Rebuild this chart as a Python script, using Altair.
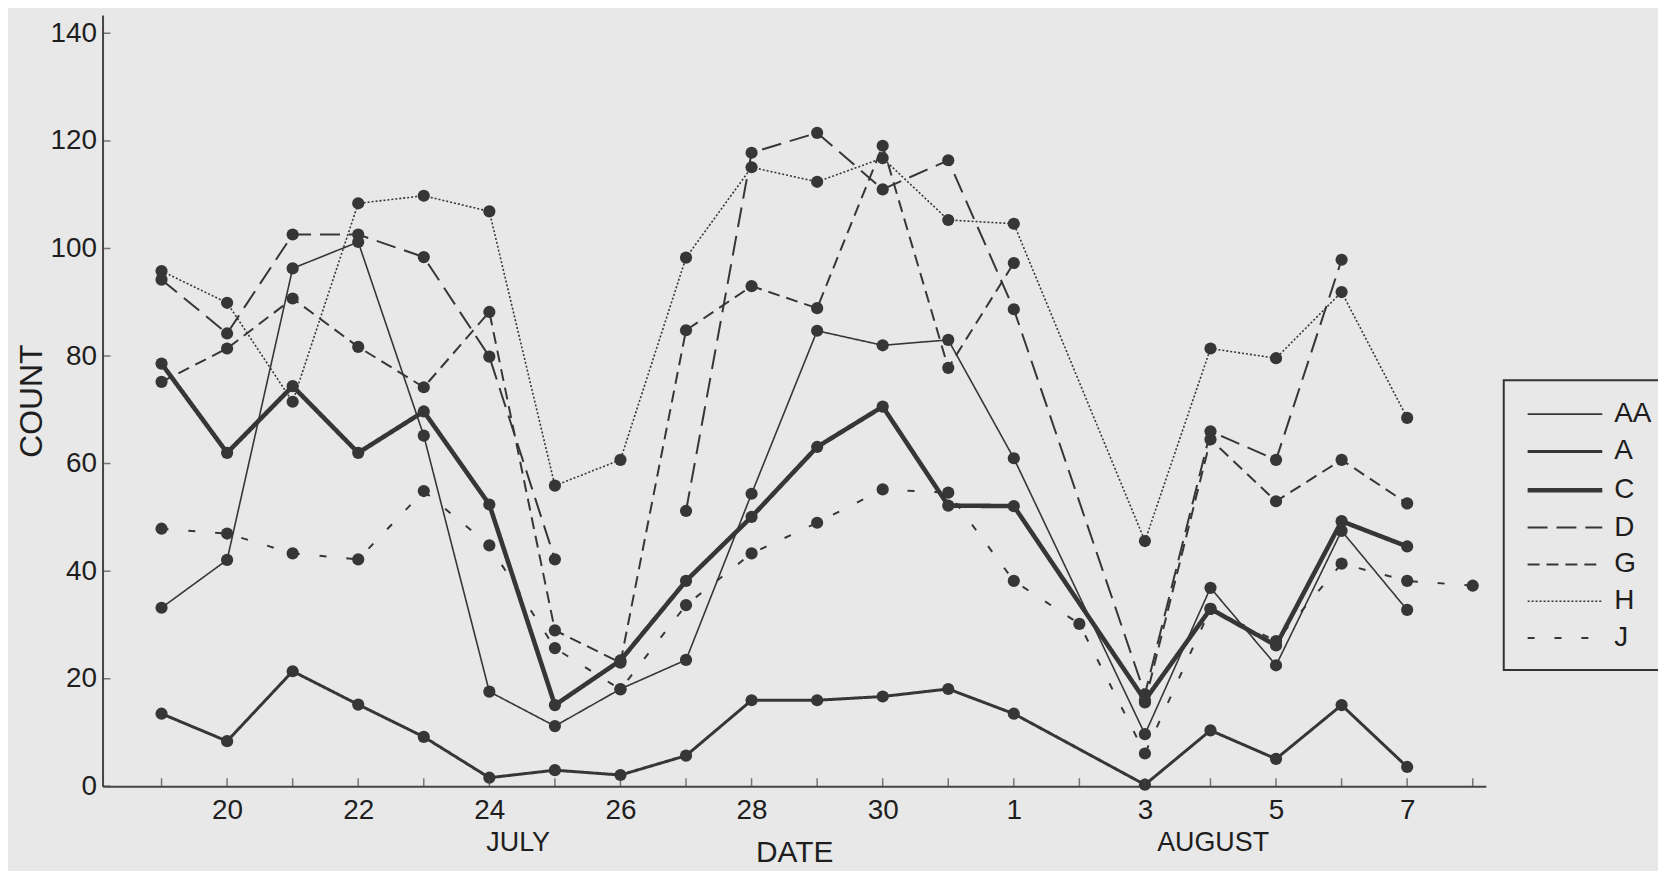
import altair as alt
import pandas as pd

# ---- data ----
SERIES = ["AA", "A", "C", "D", "G", "H", "J"]
# day index: 19..31 = July 19..31, 32..39 = August 1..8
DAYS = list(range(19, 40))

AA = [33.2, 42.1, 96.3, 101.2, 65.2, 17.6, 11.2, 18.1, 23.5, 54.4, 84.7, 82.0, 83.0, 61.0, None, 9.7, 36.9, 22.5, 47.5, 32.8, None]
A = [13.5, 8.4, 21.4, 15.2, 9.2, 1.6, 3.0, 2.1, 5.7, 16.0, 16.0, 16.7, 18.1, 13.5, None, 0.3, 10.4, 5.1, 15.1, 3.6, None]
C = [78.6, 62.0, 74.4, 62.0, 69.7, 52.4, 15.1, 23.4, 38.2, 50.1, 63.1, 70.6, 52.2, 52.1, None, 16.0, 33.0, 26.2, 49.3, 44.6, None]
D = [94.2, 84.2, 102.6, 102.6, 98.4, 79.9, 42.2, None, 51.2, 117.8, 121.5, 111.0, 116.4, 88.7, None, 17.1, 66.0, 60.7, 97.9, None, None]
G = [75.2, 81.4, 90.7, 81.7, 74.2, 88.2, 29.0, 23.0, 84.8, 93.0, 88.9, 119.1, 77.8, 97.3, None, 15.6, 64.5, 53.0, 60.7, 52.6, None]
H = [95.8, 89.9, 71.5, 108.4, 109.8, 106.9, 55.9, 60.7, 98.3, 115.1, 112.4, 116.8, 105.3, 104.6, None, 45.6, 81.4, 79.6, 91.9, 68.5, None]
J = [47.9, 47.0, 43.3, 42.2, 54.9, 44.8, 25.7, 18.0, 33.7, 43.3, 49.0, 55.2, 54.6, 38.2, 30.2, 6.1, 33.0, 27.0, 41.4, 38.2, 37.3]
VALUES = {"AA": AA, "A": A, "C": C, "D": D, "G": G, "H": H, "J": J}
# missing days where the line is not bridged
BREAKS = {"D": [26], "G": [33]}

X_LABEL_DAYS = [20, 22, 24, 26, 28, 30, 32, 34, 36, 38]
X_TICK_DAYS = list(range(19, 40))
Y_TICKS = [0, 20, 40, 60, 80, 100, 120, 140]
MONTHS = ["JULY", "AUGUST"]
MONTH_POS = [24.44, 35.04]

# ---- styles ----
DASHES = [[1, 0], [1, 0], [1, 0], [20, 9], [12, 7], [2, 2], [7, 20]]
WIDTHS = [1.6, 3.0, 4.6, 2.0, 2.0, 1.6, 2.0]
INK = "#363636"
TXT = "#1e1e1e"
FONT = "Liberation Sans"
X0 = 18.1

rows = []
for s in SERIES:
    seg = 0
    for d, v in zip(DAYS, VALUES[s]):
        if v is None:
            if d in BREAKS.get(s, []):
                seg += 1
            continue
        rows.append({"series": s, "day": d, "count": v, "seg": f"{s}-{seg}"})
df = pd.DataFrame(rows)

W, HGT = 1390, 775

xs = alt.Scale(domain=[X0, 39.2], nice=False, zero=False)
ys = alt.Scale(domain=[0, 143.4], nice=False)

x_enc = alt.X("day:Q", scale=xs, axis=alt.Axis(
    values=X_LABEL_DAYS,
    labelExpr="datum.value > 31 ? datum.value - 31 : datum.value",
    ticks=False, grid=False, title="DATE", labelPadding=10,
    titleY=76, titleBaseline="alphabetic", titleFontSize=30))
y_enc = alt.Y("count:Q", scale=ys, axis=alt.Axis(
    values=Y_TICKS, ticks=False, grid=False, title="COUNT", labelPadding=6, titlePadding=2))

leg = alt.Legend(title=None, symbolType="M-2.5,0H2.5", symbolSize=900,
                 symbolOffset=26, symbolStrokeColor=INK,
                 labelFontSize=28, labelFont=FONT, labelColor=TXT, labelOffset=32,
                 rowPadding=7, padding=18,
                 orient="none", legendX=1408, legendY=367, strokeColor="#333",
                 fillColor="#e8e8e8")

lines = alt.Chart(df).mark_line(color=INK, strokeCap="butt", strokeJoin="miter").encode(
    x=x_enc, y=y_enc,
    strokeDash=alt.StrokeDash("series:N", scale=alt.Scale(domain=SERIES, range=DASHES), legend=leg),
    strokeWidth=alt.StrokeWidth("series:N", scale=alt.Scale(type="ordinal", domain=SERIES, range=WIDTHS), legend=leg),
    detail="seg:N",
    order="day:Q",
)

points = alt.Chart(df).mark_circle(size=150, color=INK, opacity=1).encode(
    x=alt.X("day:Q", scale=xs), y=alt.Y("count:Q", scale=ys))

xticks = alt.Chart(pd.DataFrame({"day": X_TICK_DAYS})).mark_tick(
    orient="vertical", size=16, thickness=1.5, color="#444", clip=True).encode(
    x=alt.X("day:Q", scale=xs), y=alt.datum(0))

yticks = alt.Chart(pd.DataFrame({"count": Y_TICKS})).mark_tick(
    orient="horizontal", size=16, thickness=1.5, color="#444", clip=True).encode(
    x=alt.datum(X0), y=alt.Y("count:Q", scale=ys))

months = alt.Chart(pd.DataFrame({"day": MONTH_POS, "label": MONTHS})).mark_text(
    font=FONT, fontSize=27, color=TXT, baseline="middle", align="center").encode(
    x=alt.X("day:Q", scale=xs), y=alt.value(832), text="label:N")

chart = alt.layer(lines, points, xticks, yticks, months).properties(
    width=W, height=HGT,
    autosize=alt.AutoSizeParams(type="none"),
    padding={"left": 95, "top": 5, "right": 173, "bottom": 83},
    background="#e8e8e8",
).configure_view(stroke=None).configure_axis(
    domainColor="#444", domainWidth=2,
    labelFont=FONT, labelFontSize=28, labelColor=TXT,
    titleFont=FONT, titleFontSize=32, titleFontWeight="normal", titleColor=TXT,
).configure_legend(strokeWidth=2)

chart.save("out.html", embed_options={"renderer": "svg", "actions": False})
